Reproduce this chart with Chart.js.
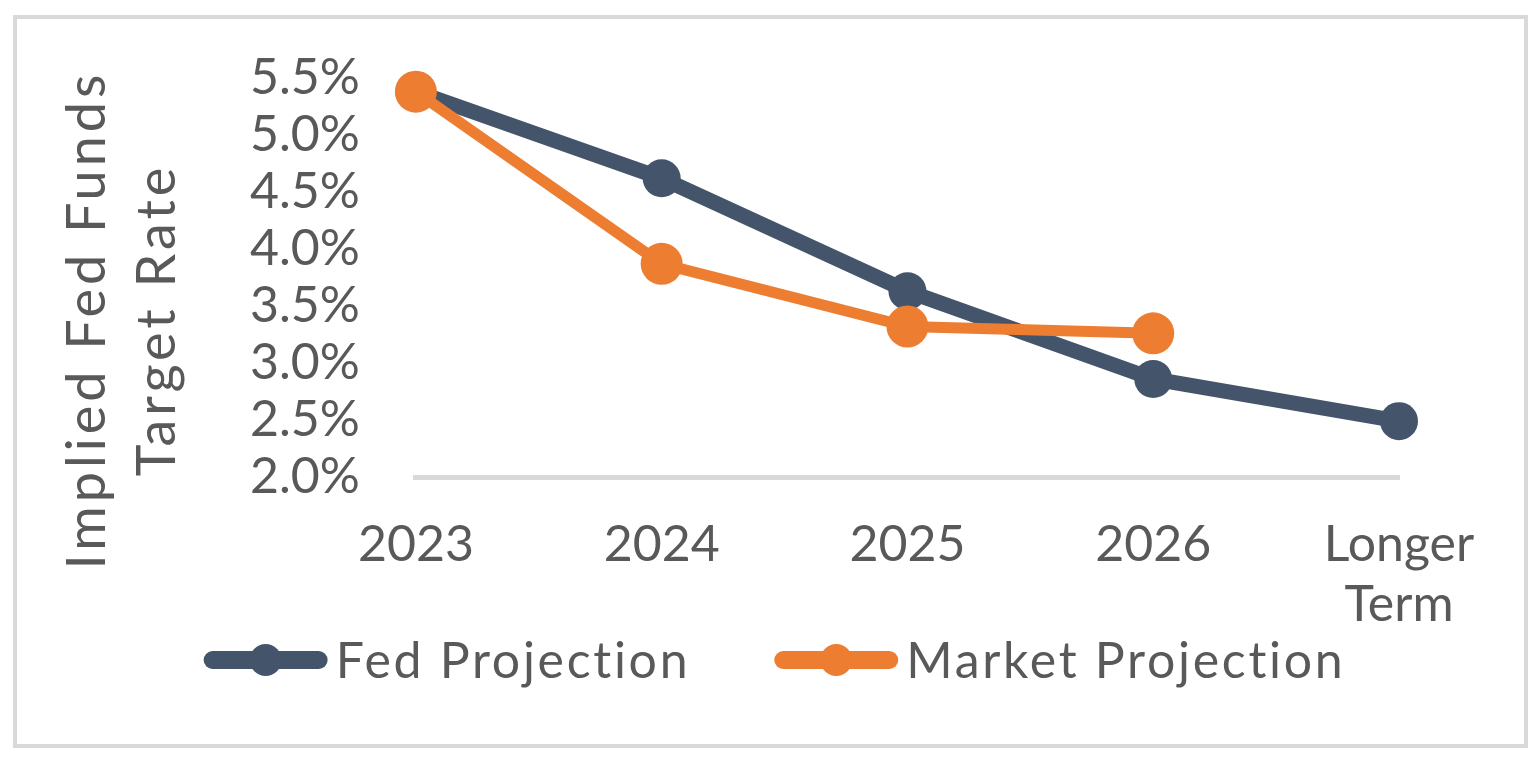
<!DOCTYPE html>
<html lang="en">
<head>
<meta charset="UTF-8">
<title>Implied Fed Funds Target Rate</title>
<script src="https://cdn.jsdelivr.net/npm/chart.js"></script>
<style>
  html, body { margin: 0; padding: 0; background: #fff; }
  #wrap { position: relative; width: 1537px; height: 760px; }
  #frame { position: absolute; left: 13px; top: 15px; width: 1515px; height: 733px; border: 4px solid #d9d9d9; box-sizing: border-box; }
  canvas { position: absolute; left: 0; top: 0; }
</style>
</head>
<body>
<div id="wrap">
  <div id="frame"></div>
  <canvas id="grafico" width="1537" height="760"></canvas>
</div>
<script>
// data
const categorias = ['2023', '2024', '2025', '2026', ['Longer', 'Term']];
const fedProjection = [5.38, 4.62, 3.63, 2.86, 2.49];
const marketProjection = [5.38, 3.87, 3.32, 3.26, null];
const yMin = 2.0, yMax = 5.5, yStep = 0.5;
const yTitle = ['Implied Fed Funds', 'Target Rate'];

const GRIS = '#595959';
const FUENTE = 'Lato';

// y-axis title, two rotated lines left of the tick labels
const tituloY = {
  id: 'tituloY',
  afterDraw(chart) {
    const ctx = chart.ctx;
    ctx.save();
    ctx.font = '54px ' + FUENTE;
    ctx.letterSpacing = '4px';
    ctx.fillStyle = GRIS;
    ctx.textAlign = 'center';
    ctx.textBaseline = 'middle';
    const xs = [88, 158];
    yTitle.forEach((t, i) => {
      ctx.save();
      ctx.translate(xs[i], 320);
      ctx.rotate(-Math.PI / 2);
      ctx.fillText(t, 0, 0);
      ctx.restore();
    });
    ctx.restore();
  }
};

// Excel-style legend: thick line with marker, then label
const leyenda = {
  id: 'leyenda',
  afterDraw(chart) {
    const ctx = chart.ctx;
    ctx.save();
    ctx.font = '50px ' + FUENTE;
    ctx.letterSpacing = '2.7px';
    const lineW = 124, gapTxt = 8, gapItem = 84;
    const items = chart.data.datasets.map(ds => ({ ds, w: lineW + gapTxt + ctx.measureText(ds.label).width }));
    const total = items.reduce((s, it) => s + it.w, 0) + gapItem * (items.length - 1);
    let x = (chart.width - total) / 2 + 6;
    const y = chart.height - 100;
    items.forEach(it => {
      const c = it.ds.borderColor;
      ctx.strokeStyle = c;
      ctx.lineWidth = 18;
      ctx.lineCap = 'round';
      ctx.beginPath();
      ctx.moveTo(x + 9, y);
      ctx.lineTo(x + lineW - 9, y);
      ctx.stroke();
      ctx.fillStyle = c;
      ctx.beginPath();
      ctx.arc(x + lineW / 2, y, 16, 0, Math.PI * 2);
      ctx.fill();
      ctx.fillStyle = GRIS;
      ctx.textAlign = 'left';
      ctx.textBaseline = 'middle';
      ctx.fillText(it.ds.label, x + lineW + gapTxt, y + 2);
      x += it.w + gapItem;
    });
    ctx.restore();
  }
};

const ctx = document.getElementById('grafico').getContext('2d');
new Chart(ctx, {
  type: 'line',
  data: {
    labels: categorias,
    datasets: [
      {
        label: 'Fed Projection',
        data: fedProjection,
        borderColor: '#44546A',
        backgroundColor: '#44546A',
        pointBackgroundColor: '#44546A',
        borderWidth: 15,
        pointRadius: 19,
        pointBorderWidth: 0,
        pointHoverRadius: 19,
        clip: false,
        order: 1
      },
      {
        label: 'Market Projection',
        data: marketProjection,
        borderColor: '#ED7D31',
        backgroundColor: '#ED7D31',
        pointBackgroundColor: '#ED7D31',
        borderWidth: 11,
        pointRadius: 21,
        pointBorderWidth: 0,
        pointHoverRadius: 21,
        clip: false,
        order: 0
      }
    ]
  },
  options: {
    responsive: false,
    animation: false,
    layout: { padding: { left: 202, right: 138, top: 78, bottom: 95 } },
    plugins: {
      legend: { display: false },
      tooltip: { enabled: false },
      title: { display: false }
    },
    scales: {
      x: {
        offset: false,
        grid: { display: false },
        border: { display: true, color: '#d9d9d9', width: 5 },
        ticks: {
          autoSkip: false,
          maxRotation: 0,
          padding: 30,
          color: GRIS,
          font: { family: FUENTE, size: 50, lineHeight: 1.2 }
        }
      },
      y: {
        min: yMin,
        max: yMax,
        grid: { display: false },
        border: { display: false },
        ticks: {
          stepSize: yStep,
          autoSkip: false,
          padding: 48,
          color: GRIS,
          font: { family: FUENTE, size: 50, lineHeight: 1 },
          callback: v => v.toFixed(1) + '%'
        }
      }
    }
  },
  plugins: [tituloY, leyenda]
});
</script>
</body>
</html>
